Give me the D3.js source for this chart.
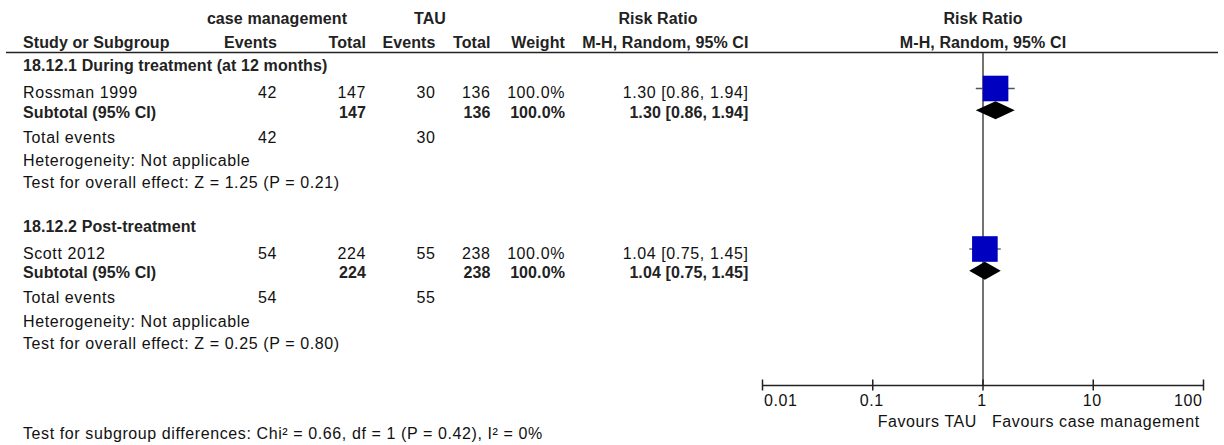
<!DOCTYPE html>
<html><head><meta charset="utf-8">
<script src="https://cdn.jsdelivr.net/npm/d3@7/dist/d3.min.js"></script>
<style>
html,body{margin:0;padding:0;background:#fff;}
svg{display:block;}
text{font-family:"Liberation Sans",Arial,sans-serif;font-size:16px;fill:#111;}
.b{font-weight:bold;fill:#222;letter-spacing:0.1px;}
.r{letter-spacing:0.6px;}
</style></head>
<body>
<svg id="c" width="1224" height="445"></svg>
<script>
// ---- data ----
const groupTitles = ["18.12.1 During treatment (at 12 months)", "18.12.2 Post-treatment"];
const studyNames = ["Rossman 1999", "Scott 2012"];
const cmEvents = [42, 54];
const cmTotal = [147, 224];
const tauEvents = [30, 55];
const tauTotal = [136, 238];
const weights = [100.0, 100.0];
const rr = [1.30, 1.04];
const rrLow = [0.86, 0.75];
const rrHigh = [1.94, 1.45];
const subRR = [1.30, 1.04];
const subLow = [0.86, 0.75];
const subHigh = [1.94, 1.45];
const heterogeneity = ["Heterogeneity: Not applicable", "Heterogeneity: Not applicable"];
const overallEffect = ["Test for overall effect: Z = 1.25 (P = 0.21)", "Test for overall effect: Z = 0.25 (P = 0.80)"];
const axisTicks = [0.01, 0.1, 1, 10, 100];
const favourLeft = "Favours TAU";
const favourRight = "Favours case management";
const subgroupTest = "Test for subgroup differences: Chi\u00B2 = 0.66, df = 1 (P = 0.42), I\u00B2 = 0%";

// ---- layout ----
const svg = d3.select("#c");
const x = d3.scaleLog().domain([0.01, 100]).range([762.5, 1203.5]);
const boxSize = d3.scaleSqrt().domain([0, 100]).range([0, 25.6]);
const fmt2 = d3.format(".2f");
const fmtW = v => d3.format(".1f")(v) + "%";
const ci = (m, l, h) => `${fmt2(m)} [${fmt2(l)}, ${fmt2(h)}]`;

const col = {cmE: 277, cmT: 366, tauE: 435.5, tauT: 490.5, w: 565, ci: 748.5};
const groupStep = 160.5;
// row baselines within a group
const rowY = {head: 71, study: 98, sub: 117.5, tot: 142.7, het: 166, test: 188.3};
const gy = (g, k) => rowY[k] + g * groupStep;

function txt(xp, yp, s, cls, anchor) {
  svg.append("text").attr("x", xp).attr("y", yp).attr("class", cls || "r")
    .attr("text-anchor", anchor || "start").text(s);
}

// headers
txt(277, 23.5, "case management", "b", "middle");
txt(430, 23.5, "TAU", "b", "middle");
txt(658, 23.5, "Risk Ratio", "b", "middle");
txt(983, 23.5, "Risk Ratio", "b", "middle");
txt(23, 48, "Study or Subgroup", "b");
txt(col.cmE, 48, "Events", "b", "end");
txt(col.cmT, 48, "Total", "b", "end");
txt(col.tauE, 48, "Events", "b", "end");
txt(col.tauT, 48, "Total", "b", "end");
txt(col.w, 48, "Weight", "b", "end");
txt(col.ci, 48, "M-H, Random, 95% CI", "b", "end");
txt(983, 48, "M-H, Random, 95% CI", "b", "middle");

svg.append("line").attr("x1", 6).attr("x2", 1218).attr("y1", 52.5).attr("y2", 52.5)
  .attr("stroke", "#222").attr("stroke-width", 1.5);

// vertical line at 1
svg.append("line").attr("x1", x(1)).attr("x2", x(1)).attr("y1", 53).attr("y2", 385)
  .attr("stroke", "#444").attr("stroke-width", 1.5);

groupTitles.forEach((gt, g) => {
  txt(23, gy(g, "head"), gt, "b");
  txt(23, gy(g, "study"), studyNames[g]);
  txt(col.cmE, gy(g, "study"), cmEvents[g], "r", "end");
  txt(col.cmT, gy(g, "study"), cmTotal[g], "r", "end");
  txt(col.tauE, gy(g, "study"), tauEvents[g], "r", "end");
  txt(col.tauT, gy(g, "study"), tauTotal[g], "r", "end");
  txt(col.w, gy(g, "study"), fmtW(weights[g]), "r", "end");
  txt(col.ci, gy(g, "study"), ci(rr[g], rrLow[g], rrHigh[g]), "r", "end");

  txt(23, gy(g, "sub"), "Subtotal (95% CI)", "b");
  txt(col.cmT, gy(g, "sub"), cmTotal[g], "b", "end");
  txt(col.tauT, gy(g, "sub"), tauTotal[g], "b", "end");
  txt(col.w, gy(g, "sub"), fmtW(weights[g]), "b", "end");
  txt(col.ci, gy(g, "sub"), ci(subRR[g], subLow[g], subHigh[g]), "b", "end");

  txt(23, gy(g, "tot"), "Total events");
  txt(col.cmE, gy(g, "tot"), cmEvents[g], "r", "end");
  txt(col.tauE, gy(g, "tot"), tauEvents[g], "r", "end");
  txt(23, gy(g, "het"), heterogeneity[g]);
  txt(23, gy(g, "test"), overallEffect[g]);

  // study CI + box
  const cy = gy(g, "study") - 9.5;
  svg.append("line").attr("x1", x(rrLow[g])).attr("x2", x(rrHigh[g]))
    .attr("y1", cy).attr("y2", cy).attr("stroke", "#555").attr("stroke-width", 1.3);
  const s = boxSize(weights[g]);
  svg.append("rect").attr("x", x(rr[g]) - s / 2).attr("y", cy - s / 2)
    .attr("width", s).attr("height", s).attr("fill", "#0000C0");

  // subtotal diamond
  const dy = gy(g, "sub") - 7.3;
  const h = 9;
  svg.append("path").attr("d",
    `M${x(subLow[g])},${dy}L${x(subRR[g])},${dy - h}L${x(subHigh[g])},${dy}L${x(subRR[g])},${dy + h}Z`)
    .attr("fill", "#000");
});

// axis
const ay = 385;
const axis = svg.append("g").attr("transform", `translate(0,${ay})`);
axis.call(d3.axisBottom(x).tickValues(axisTicks).tickSize(0).tickFormat(""));
axis.select(".domain").attr("stroke", "#222").attr("stroke-width", 1.5);
axis.selectAll(".tk").data(axisTicks).enter().append("line")
  .attr("x1", d => x(d)).attr("x2", d => x(d)).attr("y1", -5.5).attr("y2", 5.5)
  .attr("stroke", "#222").attr("stroke-width", 1.5);
axisTicks.forEach((t, i) => {
  const anchor = i === 0 ? "start" : (i === axisTicks.length - 1 ? "end" : "middle");
  const off = i === 0 ? 1.5 : -1;
  txt(x(t) + off, 405.5, String(t), "r", anchor);
});
txt(x(1) - 6, 426.5, favourLeft, "r", "end");
txt(x(1) + 9, 426.5, favourRight, "r", "start");

txt(23, 439, subgroupTest);
</script>
</body></html>
